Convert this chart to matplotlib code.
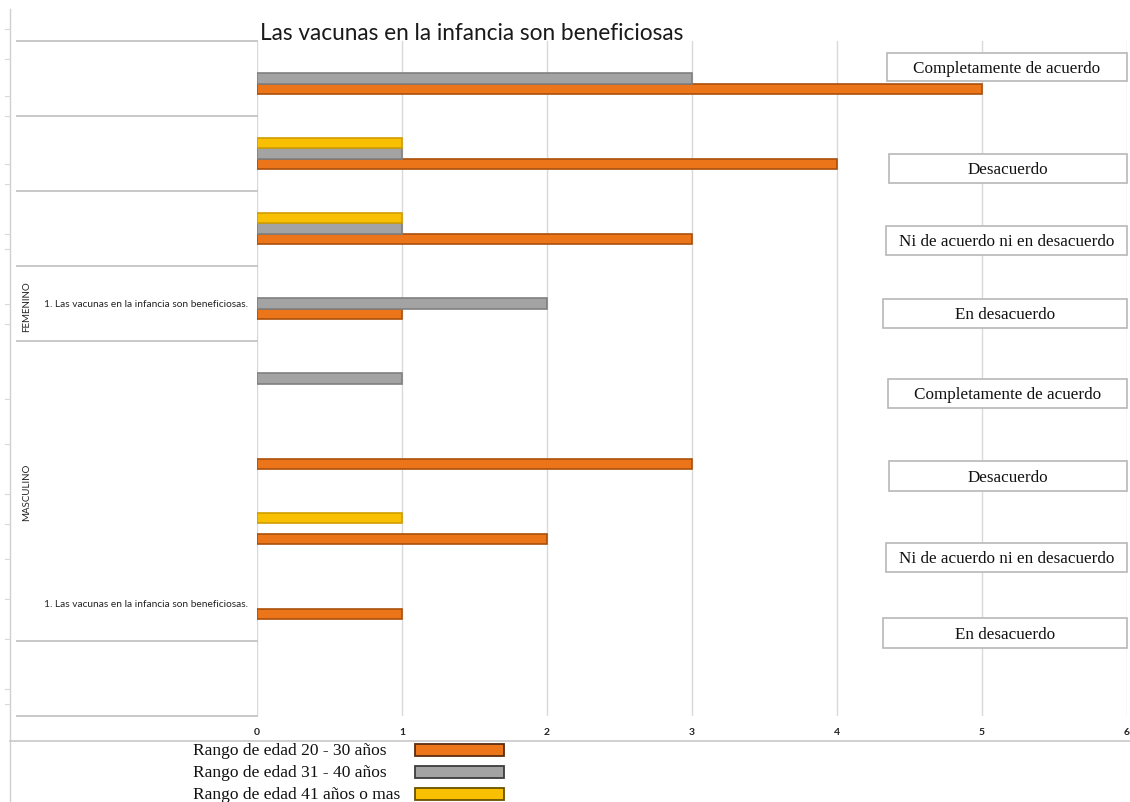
import matplotlib
matplotlib.use("Agg")
import matplotlib.pyplot as plt
import numpy as np
from matplotlib.patches import Rectangle
from matplotlib.lines import Line2D

# ---- data ----
categories = ["Completamente de acuerdo", "Desacuerdo",
              "Ni de acuerdo ni en desacuerdo", "En desacuerdo"]
groups = ["FEMENINO", "MASCULINO"]
question = "1. Las vacunas en la infancia son beneficiosas."
series_names = ["Rango de edad 20 - 30 años", "Rango de edad 31 - 40 años",
                "Rango de edad 41 años o mas"]
fem_20_30 = [5, 4, 3, 1]
fem_31_40 = [3, 1, 1, 2]
fem_41_mas = [0, 1, 1, 0]
masc_20_30 = [0, 3, 2, 1]
masc_31_40 = [1, 0, 0, 0]
masc_41_mas = [0, 0, 1, 0]
x_ticks = [0, 1, 2, 3, 4, 5, 6]
title = "Las vacunas en la infancia son beneficiosas"

# ---- style ----
fills = ["#EC7419", "#A3A3A3", "#F8C000"]
edges = ["#A9500C", "#808080", "#D09E00"]
legend_edges = ["#5A2C10", "#3C3C3C", "#6A5200"]
offsets = [0.14, 0.0, -0.14]
bar_h = 0.135
W, H = 1130, 803
SANS = ["Lato", "DejaVu Sans"]
SERIF = ["Liberation Serif", "DejaVu Serif"]

fig = plt.figure(figsize=(W / 100, H / 100), dpi=100)
fig.patch.set_facecolor("white")

# main plotting area (pixel box 257..1127 x 42..717)
ax = fig.add_axes([257 / W, 1 - 717 / H, (1127 - 257) / W, (717 - 42) / H])
n_slots = 9
ax.set_ylim(n_slots - 0.5, -0.5)
ax.set_xlim(x_ticks[0], x_ticks[-1])
ax.set_xticks(x_ticks)
ax.set_xticklabels([str(t) for t in x_ticks], family=SANS, fontsize=7.5,
                   fontweight="bold", color="#222222")
ax.set_yticks([])
ax.tick_params(axis="x", length=0, pad=8)
ax.grid(axis="x", color="#D9D9D9", linewidth=1.0)
ax.set_axisbelow(True)
for s in ax.spines.values():
    s.set_visible(False)

series = [
    (fem_20_30 + masc_20_30),
    (fem_31_40 + masc_31_40),
    (fem_41_mas + masc_41_mas),
]
slots = np.arange(len(categories) * len(groups))
for vals, off, fc, ec in zip(series, offsets, fills, edges):
    vals = np.asarray(vals, dtype=float)
    m = vals > 0
    ax.barh(slots[m] + off, vals[m], height=bar_h, color=fc,
            edgecolor=ec, linewidth=1.2, zorder=3)

# overlay in pixel coordinates for the table-like annotations
ov = fig.add_axes([0, 0, 1, 1], facecolor="none")
ov.set_xlim(0, W)
ov.set_ylim(H, 0)
ov.axis("off")

ov.text(260, 33, title, family=SANS, fontsize=16.3, color="#1a1a1a",
        ha="left", va="center")

# outer frame lines of the row table
ov.add_line(Line2D([10, 10], [10, H], color="#D0D0D0", lw=1.0))
for ty in [30, 60, 97, 117, 165, 185, 235, 250, 305, 325, 400, 445, 495, 525,
           560, 600, 640, 690, 705]:
    ov.add_line(Line2D([5, 10], [ty, ty], color="#D8D8D8", lw=0.8))
ov.add_line(Line2D([10, W], [742, 742], color="#C8C8C8", lw=1.2))
for ly in [42, 117, 192, 267, 342, 642, 717]:
    ov.add_line(Line2D([17, 257], [ly, ly], color="#C8C8C8", lw=1.4))

ov.text(27, 307, groups[0], rotation=90, family=SANS, fontsize=7,
        color="#222222", ha="center", va="center")
ov.text(27, 492, groups[1], rotation=90, family=SANS, fontsize=7,
        color="#222222", ha="center", va="center")
ov.text(248, 305, question, family=SANS, fontsize=7.3, color="#222222",
        ha="right", va="center")
ov.text(248, 605, question, family=SANS, fontsize=7.3, color="#222222",
        ha="right", va="center")

# response labels in boxes on the right
boxes = [(887, 54, 82), (889, 155, 184), (886, 227, 256), (883, 300, 329),
         (888, 380, 409), (889, 462, 492), (886, 544, 573), (883, 619, 649)]
labels = categories + categories
for (x0, y0, y1), lab in zip(boxes, labels):
    ov.add_patch(Rectangle((x0, y0), 1127 - x0, y1 - y0, facecolor="white",
                           edgecolor="#B8B8B8", lw=1.2, zorder=4))
    ov.text((x0 + 1127) / 2, (y0 + y1) / 2 + 1, lab, family=SERIF,
            fontsize=12.3, color="#111111", ha="center", va="center", zorder=5)

# legend
leg_y = [751, 773, 795]
for yy, name, fc, ec in zip(leg_y, series_names, fills, legend_edges):
    ov.text(193, yy, name, family=SERIF, fontsize=12.5, color="#111111",
            ha="left", va="center")
    ov.add_patch(Rectangle((415, yy - 6), 89, 12, facecolor=fc, edgecolor=ec,
                           lw=1.3, zorder=4))

fig.savefig("out.png", dpi=100, facecolor="white")
